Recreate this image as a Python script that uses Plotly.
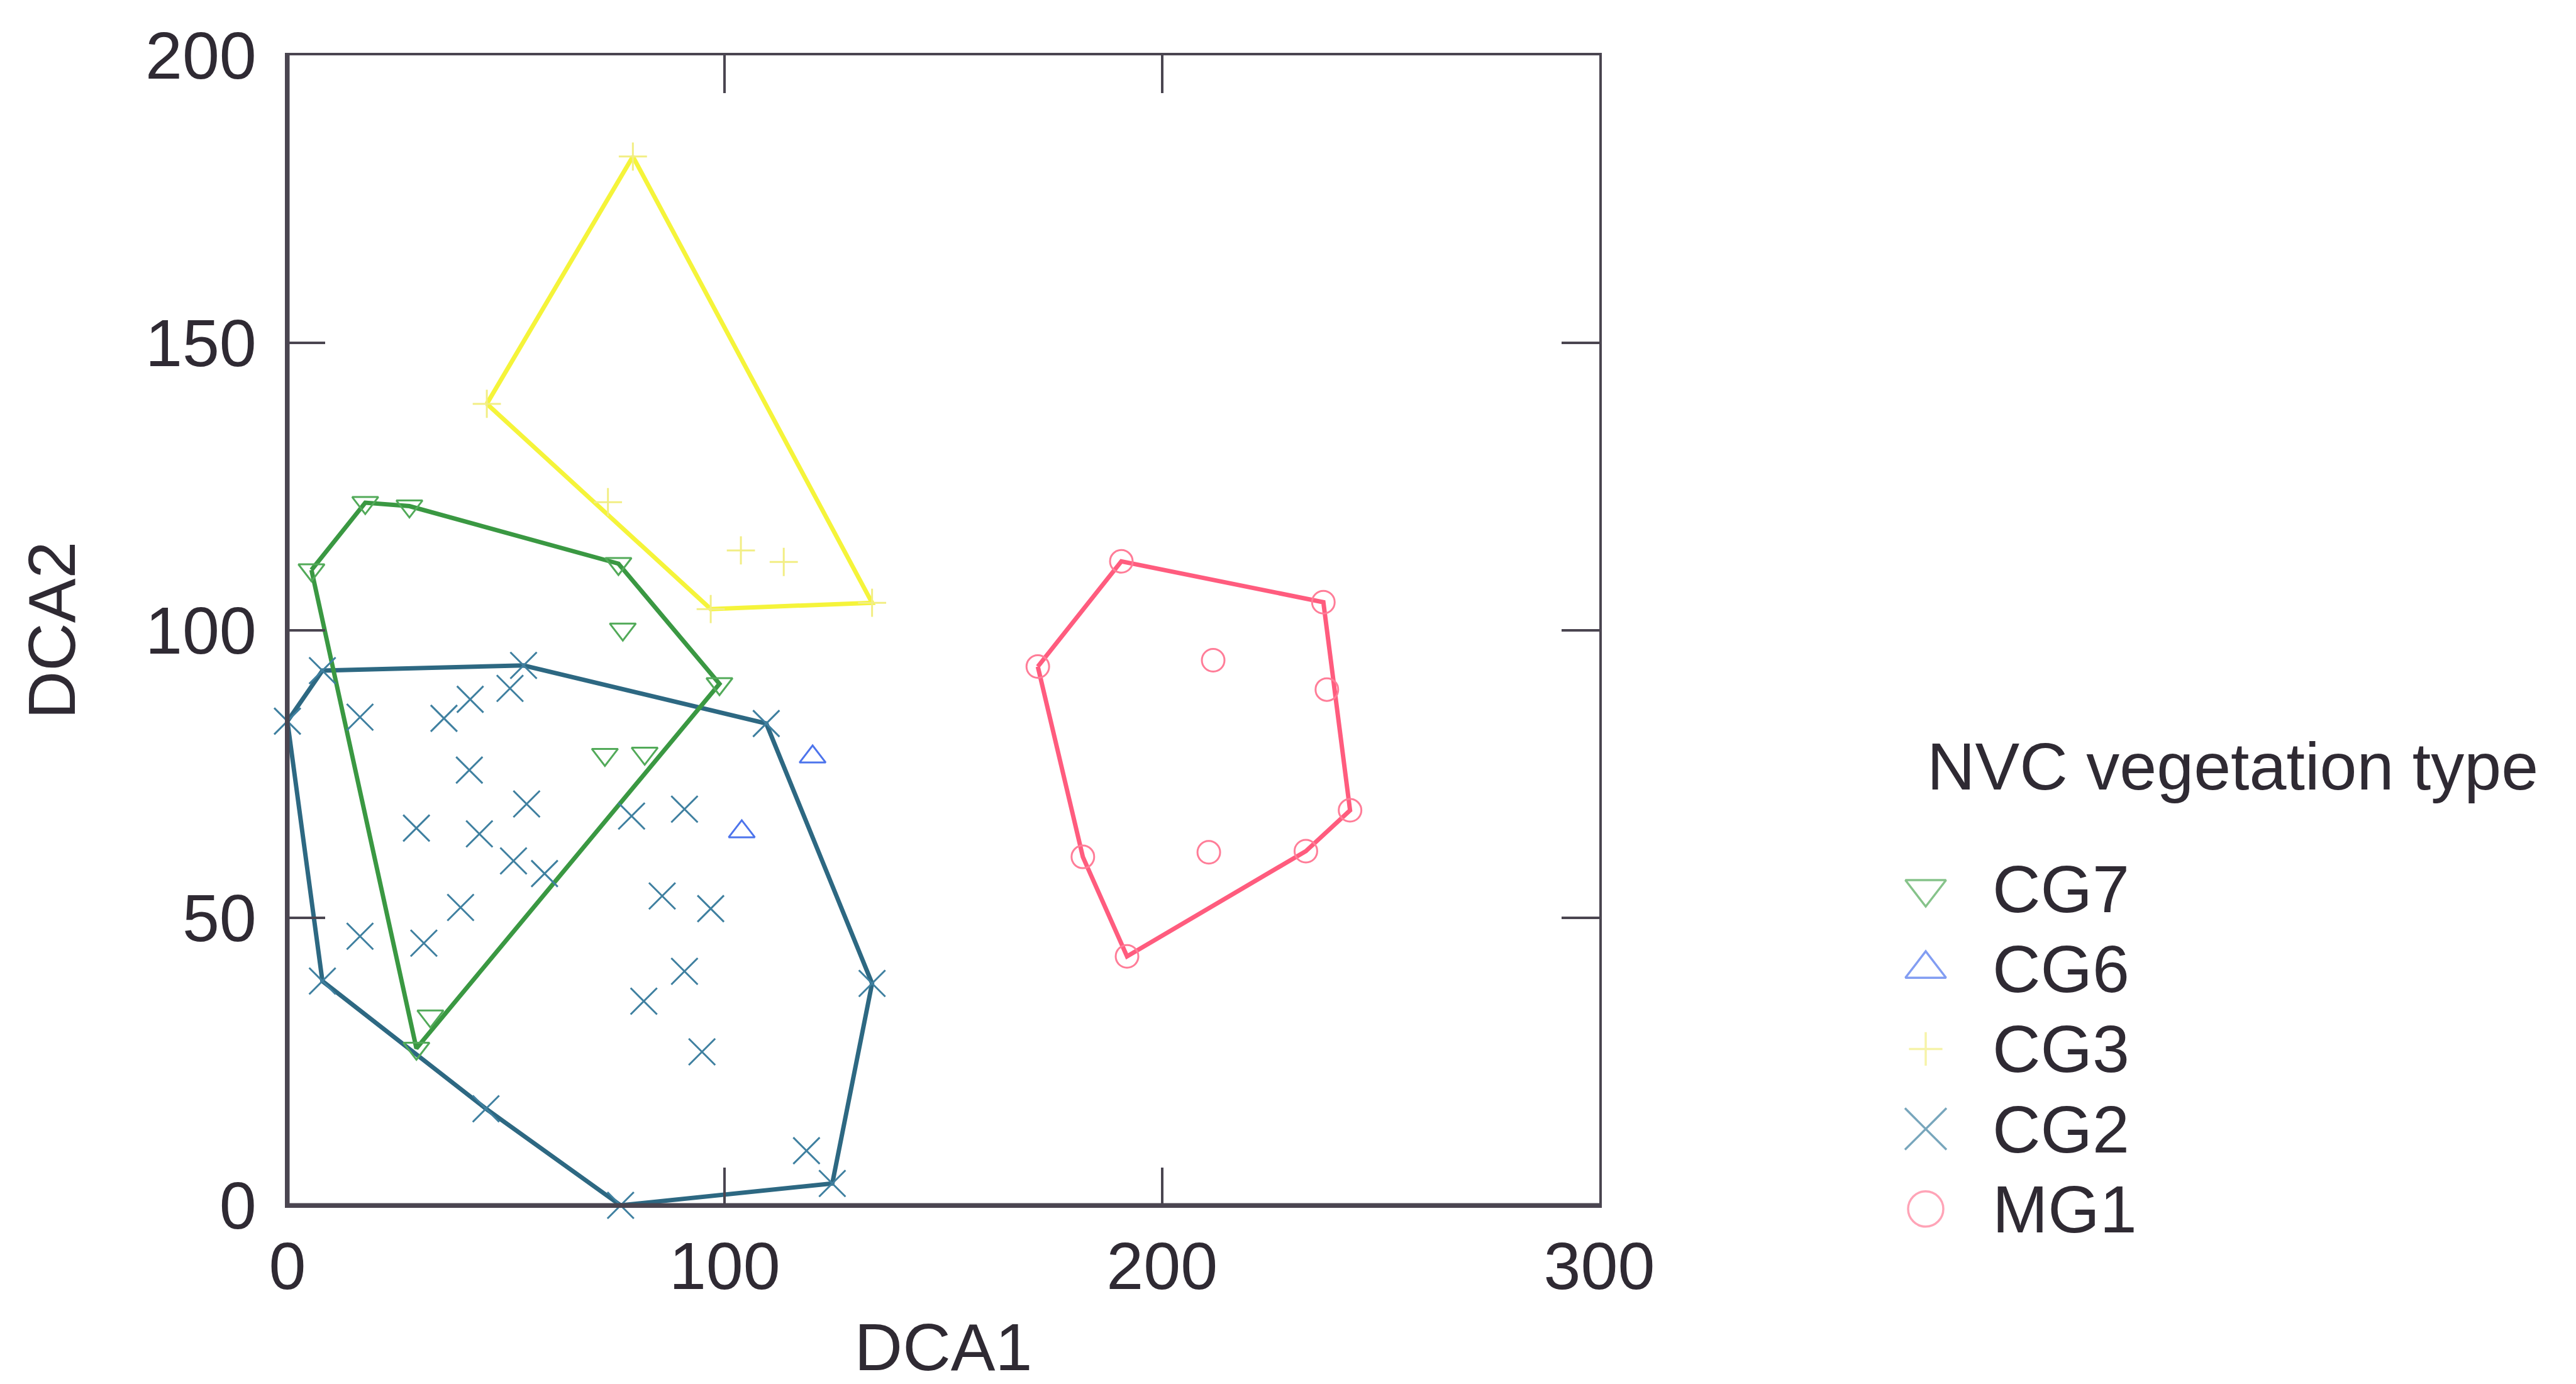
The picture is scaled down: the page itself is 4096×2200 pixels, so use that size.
import plotly.graph_objects as go

# Figure size in pixels
W, H = 4096, 2200

# ---- data: DCA site scores per NVC vegetation type ----
groups = ["CG7", "CG6", "CG3", "CG2", "MG1"]

cg7_x = [5.5, 17.8, 27.9, 75.7, 98.8, 76.7, 72.6, 81.7, 32.7, 29.5]
cg7_y = [110.5, 122.2, 121.6, 111.6, 90.7, 100.2, 78.4, 78.6, 32.9, 27.3]

cg6_x = [120.1, 103.9]
cg6_y = [78.0, 65.0]

cg3_x = [79.0, 45.6, 96.8, 133.7, 103.7, 113.5, 73.3]
cg3_y = [182.4, 139.4, 103.7, 104.8, 113.9, 111.9, 122.3]

cg2_x = [0.0, 8.0, 54.0, 109.5, 133.7, 124.6, 76.2, 45.4, 8.0, 16.6,
         35.8, 41.8, 50.9, 41.6, 54.7, 29.5, 43.9, 51.7, 58.8, 39.6,
         16.6, 31.2, 78.7, 90.8, 85.7, 96.8, 90.8, 81.5, 94.8, 118.7]
cg2_y = [84.2, 93.0, 93.9, 83.8, 38.6, 3.8, 0.0, 16.8, 39.0, 84.9,
         84.7, 88.0, 89.9, 75.7, 69.8, 65.6, 64.6, 59.9, 57.7, 51.8,
         46.8, 45.6, 67.7, 68.9, 53.8, 51.6, 40.7, 35.5, 26.7, 9.5]

mg1_x = [190.7, 236.9, 171.6, 211.7, 237.7, 243.0, 181.9, 210.7, 232.9, 192.0]
mg1_y = [112.0, 104.9, 93.7, 94.8, 89.7, 68.7, 60.6, 61.4, 61.6, 43.3]

group_x = [cg7_x, cg6_x, cg3_x, cg2_x, mg1_x]
group_y = [cg7_y, cg6_y, cg3_y, cg2_y, mg1_y]

x_ticks = [0, 100, 200, 300]
y_ticks = [0, 50, 100, 150, 200]

# ---- styling ----
symbols = ["triangle-down-open", "triangle-up-open", "cross-thin-open",
           "x-thin-open", "circle-open"]
marker_sizes = [36, 36, 32, 42, 36]
legend_sizes = [56, 56, 38, 66, 56]
line_colors = ["#3a9842", "#4d74ec", "#f5f43a", "#2d6882", "#ff5c7e"]
marker_colors = ["#52aa59", "#4d74ec", "#f2ee84", "#3f80a0", "#ff7d98"]

FONT = "Liberation Sans, Arial, Helvetica, sans-serif"
TEXT = "#2f2a33"
AXIS = "#4a4550"
FS = 106


def convex_hull(xs, ys):
    """Monotone-chain convex hull, returned as a closed ring."""
    pts = sorted(set(zip(xs, ys)))
    if len(pts) < 3:
        return [], []

    def cross(o, a, b):
        return (a[0] - o[0]) * (b[1] - o[1]) - (a[1] - o[1]) * (b[0] - o[0])

    lower, upper = [], []
    for p in pts:
        while len(lower) >= 2 and cross(lower[-2], lower[-1], p) <= 0:
            lower.pop()
        lower.append(p)
    for p in reversed(pts):
        while len(upper) >= 2 and cross(upper[-2], upper[-1], p) <= 0:
            upper.pop()
        upper.append(p)
    ring = lower[:-1] + upper[:-1]
    ring.append(ring[0])
    return [p[0] for p in ring], [p[1] for p in ring]


fig = go.Figure()

# hull outlines (drawn underneath the points)
for order in [3, 2, 0, 4, 1]:
    hx, hy = convex_hull(group_x[order], group_y[order])
    if hx:
        fig.add_trace(go.Scatter(
            x=hx, y=hy, mode="lines", showlegend=False, hoverinfo="skip",
            line=dict(color=line_colors[order], width=7),
            cliponaxis=False))

# site points
for i, g in enumerate(groups):
    fig.add_trace(go.Scatter(
        x=group_x[i], y=group_y[i], mode="markers", name=g,
        showlegend=False, cliponaxis=False,
        marker=dict(symbol=symbols[i], size=marker_sizes[i],
                    color=marker_colors[i],
                    line=dict(color=marker_colors[i], width=3))))

# ---- legend, laid out in pixel space on a helper subplot to the right ----
LEG_LEFT = 2800
leg_sym_x = 3062
leg_txt_x = 3166
leg_y0 = 1413
leg_step = 127.2
leg_y = [leg_y0 + leg_step * i for i in range(len(groups))]

fig.add_trace(go.Scatter(
    x=[leg_sym_x] * len(groups), y=leg_y, mode="markers",
    xaxis="x2", yaxis="y2", showlegend=False, hoverinfo="skip",
    cliponaxis=False,
    marker=dict(symbol=symbols, size=legend_sizes, color=marker_colors,
                line=dict(color=marker_colors, width=3.5))))

annotations = [dict(
    x=3062, y=1218, xref="x2", yref="y2", text="NVC vegetation type",
    showarrow=False, xanchor="left", yanchor="middle",
    font=dict(family=FONT, size=FS, color=TEXT))]
for g, yy in zip(groups, leg_y):
    annotations.append(dict(
        x=leg_txt_x, y=yy, xref="x2", yref="y2", text=g, showarrow=False,
        xanchor="left", yanchor="middle",
        font=dict(family=FONT, size=FS, color=TEXT)))

# plot frame in pixels
X0, X1 = 457, 2543
Y_TOP, Y_BOT = 88, 1916

axis_common = dict(
    showgrid=False, zeroline=False, showline=True, linecolor=AXIS,
    linewidth=4, mirror="ticks", ticks="inside", ticklen=60,
    tickwidth=4, tickcolor=AXIS, automargin=False,
    tickfont=dict(family=FONT, size=FS, color=TEXT))

fig.update_layout(
    template="none",
    width=W, height=H,
    margin=dict(l=0, r=0, t=0, b=0, pad=0),
    paper_bgcolor="white", plot_bgcolor="rgba(0,0,0,0)",
    showlegend=False,
    xaxis=dict(
        axis_common, domain=[X0 / W, X1 / W], range=[0, 300],
        tickvals=x_ticks, ticktext=[str(v) for v in x_ticks],
        ticklabelstandoff=2,
        title=dict(text="DCA1", standoff=85,
                   font=dict(family=FONT, size=FS, color=TEXT))),
    yaxis=dict(
        axis_common, domain=[1 - Y_BOT / H, 1 - Y_TOP / H], range=[0, 200],
        tickvals=y_ticks, ticktext=[str(v) for v in y_ticks],
        ticklabelstandoff=24,
        title=dict(text="DCA2", standoff=77,
                   font=dict(family=FONT, size=FS, color=TEXT))),
    xaxis2=dict(domain=[LEG_LEFT / W, 1], range=[LEG_LEFT, W],
                visible=False, anchor="y2", fixedrange=True,
                automargin=False),
    yaxis2=dict(domain=[0, 1], range=[H, 0], visible=False,
                anchor="x2", fixedrange=True, automargin=False),
    annotations=annotations,
    shapes=[
        # heavier left and bottom axis lines
        dict(type="line", xref="x domain", yref="y domain",
             x0=0, x1=0, y0=0, y1=1, line=dict(color=AXIS, width=7),
             layer="above"),
        dict(type="line", xref="x domain", yref="y domain",
             x0=0, x1=1, y0=0, y1=0, line=dict(color=AXIS, width=7),
             layer="above"),
    ],
)

fig.write_html("out.html")
